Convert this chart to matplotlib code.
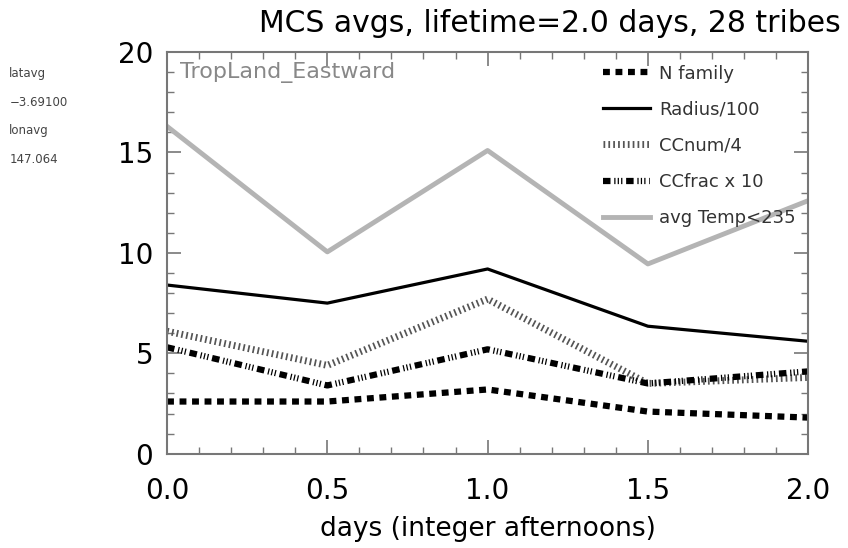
import matplotlib.pyplot as plt
from matplotlib.ticker import MultipleLocator

# days (integer afternoons)
days = [0.0, 0.5, 1.0, 1.5, 2.0]

# values
n_family = [2.6, 2.6, 3.2, 2.1, 1.8]
radius = [8.4, 7.5, 9.2, 6.35, 5.6]
ccnum = [6.1, 4.4, 7.7, 3.5, 3.8]
ccfrac = [5.3, 3.4, 5.2, 3.5, 4.1]
temp = [16.3, 10.05, 15.1, 9.45, 12.6]

fig = plt.figure(figsize=(8.48, 5.48), dpi=100)
ax = fig.add_axes([0.197, 0.172, 0.756, 0.733])

ax.plot(days, n_family, color='black', lw=4.5, linestyle=(0, (1.1, 0.9)),
        label='N family')
ax.plot(days, radius, color='black', lw=2.3, label='Radius/100')
ax.plot(days, ccnum, color='#555555', lw=5, linestyle=(0, (0.25, 0.45)),
        label='CCnum/4')
ax.plot(days, ccfrac, color='black', lw=4.5,
        linestyle=(0, (1.2, 0.6, 0.2, 0.35, 0.2, 0.35, 0.2, 0.6)),
        label='CCfrac x 10')
ax.plot(days, temp, color='#b4b4b4', lw=3.5, label='avg Temp<235')

ax.set_xlim(0, 2)
ax.set_ylim(0, 20)
ax.xaxis.set_major_locator(MultipleLocator(0.5))
ax.xaxis.set_minor_locator(MultipleLocator(0.1))
ax.yaxis.set_major_locator(MultipleLocator(5))
ax.yaxis.set_minor_locator(MultipleLocator(1))
ax.tick_params(which='both', direction='in', top=True, right=True,
               color='#777777', labelsize=20)
ax.tick_params(axis='x', pad=17)
ax.tick_params(axis='y', pad=10)
ax.tick_params(which='major', length=10, width=1.2)
ax.tick_params(which='minor', length=5, width=1)
ax.xaxis.set_major_formatter(plt.FuncFormatter(lambda v, p: f'{v:.1f}'))
for s in ax.spines.values():
    s.set_color('#777777')
    s.set_linewidth(1.5)

ax.set_xlabel('days (integer afternoons)', fontsize=19, labelpad=8)
fig.text(0.648, 0.957, 'MCS avgs, lifetime=2.0 days, 28 tribes',
         fontsize=21.5, ha='center', va='center')
ax.text(0.02, 0.975, 'TropLand_Eastward', transform=ax.transAxes,
        fontsize=16, color='#888888', va='top')

side = ['latavg', '\u22123.69100', 'lonavg', '147.064']
for i, t in enumerate(side):
    fig.text(0.011, 0.865 - i * 0.052, t, fontsize=8.5, color='#444444',
             va='center')

leg = ax.legend(loc='upper left', bbox_to_anchor=(0.66, 1.0), frameon=False,
                fontsize=13, handlelength=2.6, handletextpad=0.5,
                labelspacing=1.0, borderaxespad=0.3)
for t in leg.get_texts():
    t.set_color('#333333')

fig.savefig('out.png', dpi=100)
